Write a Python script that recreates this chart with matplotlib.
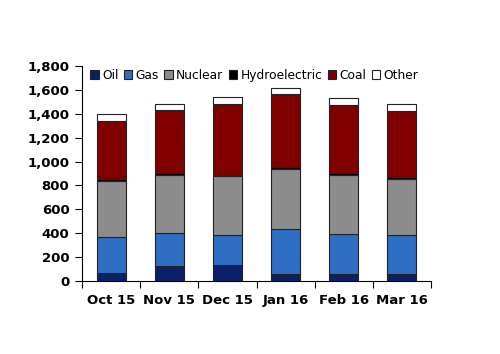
import numpy as np
import matplotlib
matplotlib.use('Agg')
import matplotlib.pyplot as plt

months = ['Oct 15', 'Nov 15', 'Dec 15', 'Jan 16', 'Feb 16', 'Mar 16']
oil = [69, 123, 134, 59, 56, 56]
gas = [296, 276, 248, 376, 340, 326]
nuclear = [471, 490, 493, 499, 488, 471]
hydro = [14, 11, 9, 22, 16, 14]
coal = [490, 530, 601, 610, 571, 554]
other = [56, 47, 53, 50, 56, 56]

series = [('Oil', oil, '#0b2068'), ('Gas', gas, '#2e6fc3'),
          ('Nuclear', nuclear, '#8c8c8c'), ('Hydroelectric', hydro, '#000000'),
          ('Coal', coal, '#800000'), ('Other', other, '#ffffff')]

fig = plt.figure(figsize=(5, 3.54), dpi=100)
ax = fig.add_axes([0.164, 0.206, 0.698, 0.608])

x = np.arange(len(months))
bottom = np.zeros(len(months))
for name, vals, col in series:
    ax.bar(x, vals, 0.5, bottom=bottom, color=col, edgecolor='#222222',
           linewidth=0.8, label=name)
    bottom += np.array(vals)

ax.set_xlim(-0.5, len(months) - 0.5)
ax.set_ylim(0, 1800)
ax.set_yticks(np.arange(0, 1801, 200))
ax.set_yticklabels([f'{v:,}' for v in range(0, 1801, 200)])
ax.set_xticks(np.arange(-0.5, len(months), 1.0))
ax.set_xticklabels([])
ax.set_xticks(x, minor=True)
ax.set_xticklabels(months, minor=True)
ax.tick_params(axis='x', which='minor', length=0, pad=9)
ax.tick_params(axis='x', which='major', length=5, direction='out')
ax.tick_params(axis='y', length=5, direction='out', pad=4)
for lab in ax.get_xticklabels(minor=True) + ax.get_yticklabels():
    lab.set_fontweight('bold')
    lab.set_fontsize(9.5)
ax.spines['top'].set_visible(False)
ax.spines['right'].set_visible(False)

ax.legend(loc='upper left', bbox_to_anchor=(0.01, 1.01), ncol=6, frameon=False,
          fontsize=8.8, handlelength=0.7, handleheight=0.7, handletextpad=0.25,
          columnspacing=0.45, borderaxespad=0)

fig.savefig('out.png', dpi=100)
